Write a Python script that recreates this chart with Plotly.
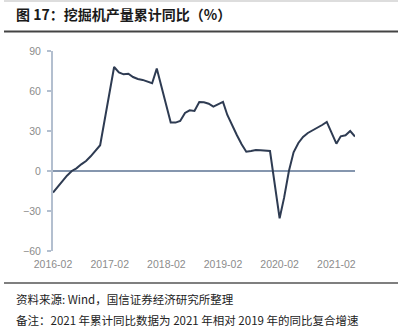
import plotly.graph_objects as go

# ---- data ----
months = [
    "2016-02", "2016-03", "2016-04", "2016-05", "2016-06", "2016-07", "2016-08",
    "2016-09", "2016-10", "2016-11", "2016-12",
    "2017-03", "2017-04", "2017-05", "2017-06", "2017-07", "2017-08", "2017-09",
    "2017-10", "2017-11", "2017-12",
    "2018-03", "2018-04", "2018-05", "2018-06", "2018-07", "2018-08", "2018-09",
    "2018-10", "2018-11", "2018-12",
    "2019-02", "2019-03", "2019-04", "2019-05", "2019-06", "2019-07", "2019-08",
    "2019-09", "2019-10", "2019-11", "2019-12",
    "2020-02", "2020-03", "2020-04", "2020-05", "2020-06", "2020-07", "2020-08",
    "2020-09", "2020-10", "2020-11", "2020-12",
    "2021-02", "2021-03", "2021-04", "2021-05", "2021-06",
]
yoy = [
    -16.2, -12.0, -7.0, -3.5, 0.0, 2.0, 5.0,
    7.5, 11.0, 15.0, 19.3,
    78.0, 74.0, 72.5, 73.0, 70.5, 69.0, 68.3,
    67.0, 65.8, 76.8,
    36.3, 36.3, 37.5, 43.5, 45.5, 45.0, 51.8,
    51.5, 50.5, 48.3,
    51.8, 42.0, 35.0, 27.0, 20.0, 14.5, 15.0,
    15.8, 15.5, 15.5, 15.0,
    -35.5, -20.0, 0.0, 14.0, 21.0, 25.5, 28.5,
    30.5, 32.0, 34.5, 36.8,
    20.5, 26.0, 26.8, 30.0, 25.8,
]
tick_vals = ["2016-02-01", "2017-02-01", "2018-02-01", "2019-02-01", "2020-02-01", "2021-02-01"]
tick_text = ["2016-02", "2017-02", "2018-02", "2019-02", "2020-02", "2021-02"]
y_ticks = [-60, -30, 0, 30, 60, 90]

title_text = "图 17：挖掘机产量累计同比（%）"
source_text = "资料来源: Wind，国信证券经济研究所整理"
note_text = "备注：2021 年累计同比数据为 2021 年相对 2019 年的同比复合增速"

# ---- layout geometry (pixels) ----
W, H = 401, 329
L, R, T, B = 53, 355, 51, 251  # plot area edges
pw, ph = R - L, B - T


def px(x):
    return (x - L) / pw


def py(y):
    return (B - y) / ph


dates = [m + "-01" for m in months]

fig = go.Figure()
fig.add_trace(go.Scatter(
    x=dates, y=yoy, mode="lines",
    line=dict(color="#2E3B52", width=2),
    hoverinfo="skip", showlegend=False,
))

tick_font = dict(family="Liberation Sans, Arial, sans-serif", size=10.5, color="#8C8C8C")
cjk = "Noto Sans CJK SC, sans-serif"

fig.update_layout(
    width=W, height=H,
    margin=dict(l=L, r=W - R, t=T, b=H - B, pad=0),
    paper_bgcolor="white", plot_bgcolor="white",
    xaxis=dict(
        type="date", range=["2016-02-01", "2021-06-01"],
        tickvals=tick_vals, ticktext=tick_text, tickfont=tick_font,
        showgrid=False, zeroline=False, showline=False, ticks="",
        ticklabelstandoff=5,
    ),
    yaxis=dict(
        range=[-60, 90], tickvals=y_ticks, tickfont=tick_font,
        showgrid=False, showline=True, linecolor="#B3BFCF", linewidth=2,
        ticks="outside", ticklen=4, tickcolor="#B3BFCF", tickwidth=1.5,
        zeroline=True, zerolinecolor="#8596AE", zerolinewidth=2,
        ticklabelstandoff=4,
    ),
    shapes=[
        dict(type="line", xref="paper", yref="paper", x0=px(4), x1=px(398), y0=py(1), y1=py(1),
             line=dict(color="#BBBBBB", width=1)),
        dict(type="line", xref="paper", yref="paper", x0=px(4), x1=px(398), y0=py(31.5), y1=py(31.5),
             line=dict(color="#444444", width=1.8)),
        dict(type="line", xref="paper", yref="paper", x0=px(4), x1=px(398), y0=py(283), y1=py(283),
             line=dict(color="#555555", width=1.5)),
    ],
    annotations=[
        dict(text="<b>" + title_text + "</b>", xref="paper", yref="paper", x=px(14), y=py(14),
             xanchor="left", yanchor="middle", showarrow=False,
             font=dict(family=cjk, size=14, color="#1A1A1A")),
        dict(text=source_text, xref="paper", yref="paper", x=px(14), y=py(299),
             xanchor="left", yanchor="middle", showarrow=False,
             font=dict(family=cjk, size=11.5, color="#222222")),
        dict(text=note_text, xref="paper", yref="paper", x=px(14), y=py(320),
             xanchor="left", yanchor="middle", showarrow=False,
             font=dict(family=cjk, size=11.5, color="#222222")),
    ],
)

fig.write_html("out.html")
